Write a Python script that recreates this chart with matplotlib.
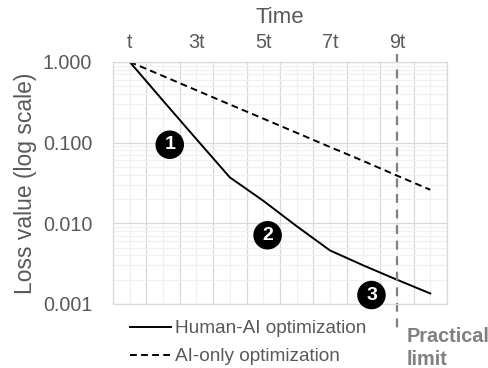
import matplotlib

matplotlib.use("Agg")

import matplotlib.pyplot as plt
from matplotlib.ticker import FixedLocator, FuncFormatter, NullFormatter
from matplotlib.transforms import blended_transform_factory

plt.rcParams["font.family"] = ["Liberation Sans", "DejaVu Sans"]

steps = [1, 2, 3, 4, 5, 6, 7, 8, 9, 10]
human_ai = [1.0, 0.33, 0.11, 0.037, 0.019, 0.0092, 0.0046, 0.0030, 0.0020, 0.00135]
ai_only = [1.0, 0.667, 0.444, 0.296, 0.198, 0.132, 0.088, 0.059, 0.039, 0.026]
tick_steps = [1, 3, 5, 7, 9]
tick_labels = ["t", "3t", "5t", "7t", "9t"]
practical_limit = 9
markers = [("1", 2.2, 0.094), ("2", 5.13, 0.0071), ("3", 8.24, 0.00129)]

TEXT = "#595959"

fig = plt.figure(figsize=(4.89, 3.68), dpi=100)
ax = fig.add_axes([0.231, 0.174, 0.683, 0.658])

ax.set_yscale("log")
ax.set_ylim(0.001, 1.0)
ax.set_xlim(0.5, 10.5)

# grid: darker at category edges / decades, lighter in between
ax.xaxis.set_major_locator(FixedLocator([x + 0.5 for x in range(0, 11)]))
ax.xaxis.set_minor_locator(FixedLocator(steps))
ax.grid(True, which="major", color="#d9d9d9", linewidth=0.9)
ax.grid(True, which="minor", color="#f0f0f0", linewidth=0.9)
ax.xaxis.set_major_formatter(NullFormatter())
ax.xaxis.set_minor_formatter(NullFormatter())
ax.set_axisbelow(True)

ax.yaxis.set_major_formatter(FuncFormatter(lambda v, _: f"{v:.3f}"))
ax.yaxis.set_minor_formatter(NullFormatter())
ax.tick_params(axis="both", which="both", length=0, labelsize=14.2, labelcolor=TEXT)
ax.tick_params(axis="y", pad=15)

for spine in ax.spines.values():
    spine.set_color("#d9d9d9")
    spine.set_linewidth(0.9)

# top labels for time
top = ax.secondary_xaxis("top")
top.set_xticks(tick_steps)
top.set_xticklabels(tick_labels)
top.tick_params(length=0, labelsize=14.2, labelcolor=TEXT, pad=7)
top.spines["top"].set_visible(False)
top.set_xlabel("Time", fontsize=16, color=TEXT, labelpad=7)

ax.set_ylabel("Loss value (log scale)", fontsize=16.5, color=TEXT, labelpad=4)

h1, = ax.plot(steps, human_ai, color="black", linewidth=1.4, label="Human-AI optimization")
h2, = ax.plot(steps, ai_only, color="black", linewidth=1.4, linestyle=(0, (3.5, 2.2)),
              label="AI-only optimization")

trans = blended_transform_factory(ax.transData, ax.transAxes)
ax.plot([practical_limit, practical_limit], [1.033, -0.1], transform=trans, clip_on=False,
        color="#808080", linewidth=1.6, linestyle=(0, (4, 3)))
ax.text(practical_limit + 0.28, -0.095, "Practical\nlimit", transform=trans, ha="left", va="top",
        fontsize=14.3, fontweight="bold", color="#808080", linespacing=1.3)

for label, x, y in markers:
    ax.text(x, y, label, ha="center", va="center", fontsize=14, fontweight="bold", color="white",
            bbox={"boxstyle": "circle,pad=0.26", "facecolor": "black", "edgecolor": "black"})

fig.legend(handles=[h1, h2], loc="upper left", bbox_to_anchor=(0.265, 0.13), frameon=False,
           fontsize=13.7, labelcolor=TEXT, handlelength=2.2, handletextpad=0.2,
           labelspacing=0.55, borderpad=0, borderaxespad=0)

fig.savefig("out.png", dpi=100)
